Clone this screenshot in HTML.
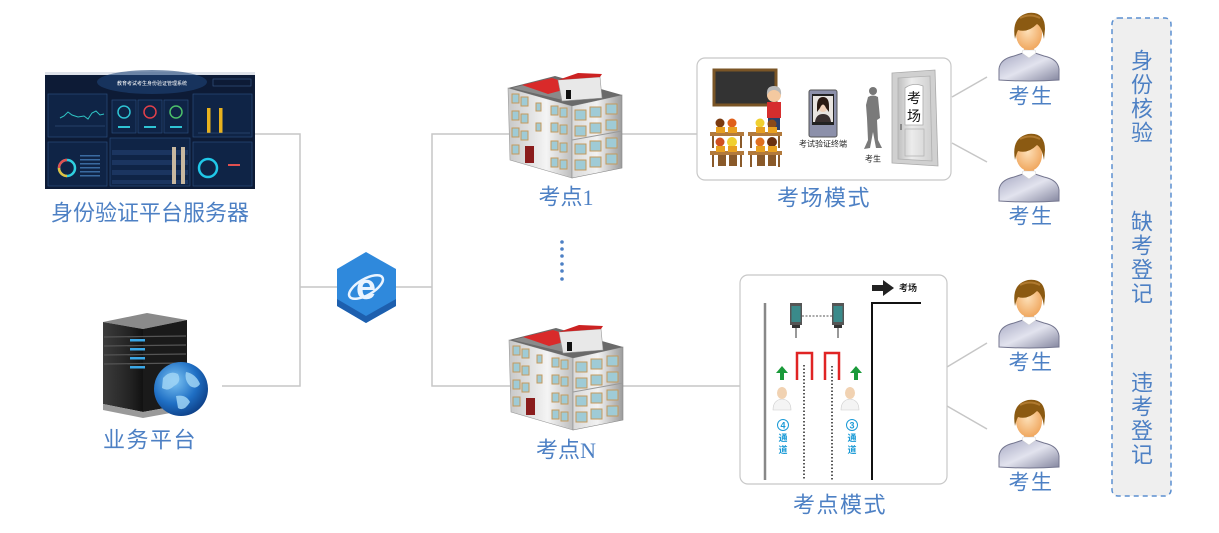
<!DOCTYPE html>
<html><head><meta charset="utf-8"><style>
html,body{margin:0;padding:0;background:#fff;}
svg{display:block;font-family:"Liberation Sans","Noto Sans CJK SC",sans-serif;}
</style></head><body>
<svg width="1219" height="533" viewBox="0 0 1219 533" xmlns="http://www.w3.org/2000/svg">
<defs>
 <linearGradient id="gBody" x1="0" y1="0" x2="1" y2="1">
  <stop offset="0" stop-color="#a6a8c2"/><stop offset=".5" stop-color="#e2e3ee"/><stop offset="1" stop-color="#84869f"/>
 </linearGradient>
 <radialGradient id="gSkin" cx=".45" cy=".4" r=".6">
  <stop offset="0" stop-color="#fde0b8"/><stop offset="1" stop-color="#f0a860"/>
 </radialGradient>
 <linearGradient id="gFront" x1="0" y1="0" x2="1" y2="0">
  <stop offset="0" stop-color="#d9d9d9"/><stop offset=".5" stop-color="#f2f2f2"/><stop offset="1" stop-color="#9c9c9c"/>
 </linearGradient>
 <linearGradient id="gLeft" x1="0" y1="0" x2="1" y2="0">
  <stop offset="0" stop-color="#c8c8c8"/><stop offset=".6" stop-color="#f4f4f4"/><stop offset="1" stop-color="#bdbdbd"/>
 </linearGradient>
 <radialGradient id="gGlobe" cx=".38" cy=".35" r=".7">
  <stop offset="0" stop-color="#7cc4f4"/><stop offset=".6" stop-color="#1f6fc4"/><stop offset="1" stop-color="#0d3f86"/>
 </radialGradient>
 <linearGradient id="gSrv" x1="0" y1="0" x2="1" y2="0">
  <stop offset="0" stop-color="#3c3c3c"/><stop offset=".7" stop-color="#222"/><stop offset="1" stop-color="#111"/>
 </linearGradient>
 <linearGradient id="gDoor" x1="0" y1="0" x2="1" y2="0">
  <stop offset="0" stop-color="#bfbfbf"/><stop offset=".4" stop-color="#ececec"/><stop offset="1" stop-color="#cfcfcf"/>
 </linearGradient>

 <g id="stu">
  <path d="M1,68 L1,57 Q2,47 16,44 L25,41 L37,41 L46,44 Q60,47 61,57 L61,68 Q31,70 1,68Z" fill="url(#gBody)" stroke="#74768f" stroke-width="1"/>
  <rect x="26" y="30" width="10" height="11" fill="#f0b070"/>
  <path d="M24,41 L31,46 L38,41 L37,38 L25,38Z" fill="#fff" stroke="#ccc" stroke-width=".5"/>
  <ellipse cx="31" cy="22" rx="13" ry="16" fill="url(#gSkin)"/>
  <path d="M17,27 Q13,5 30,1 Q47,-1 47,17 L46,27 Q44,15 39,12 Q30,21 20,18 Q18,22 17,27Z" fill="#8b5a12"/>
  <path d="M22,6 Q32,1 42,6" stroke="#b07a30" stroke-width="2" fill="none"/>
 </g>

 <g id="bld">
  <polygon points="508,88 572,106 572,178 510,160" fill="url(#gLeft)" stroke="#999" stroke-width=".6"/>
  <polygon points="572,106 622,95 622,168 572,178" fill="url(#gFront)" stroke="#888" stroke-width=".6"/>
  <polygon points="508,88 555,76 622,95 572,106" fill="#6a6a6a"/>
  <polygon points="512,88 552,78 600,92 567,101" fill="#8a8a8a"/>
  <polygon points="522,85 552,78 578,86 548,94" fill="#d92a2a"/>
  <polygon points="558,80 600,77 602,98 562,101" fill="#e8e8e8" stroke="#999" stroke-width=".6"/>
  <polygon points="558,80 578,73 602,74 600,77" fill="#cc2222"/>
  <rect x="566" y="90" width="5" height="9" fill="#111"/>
  <g fill="#9fcbd6" stroke="#c49a5c" stroke-width="1">
   <rect x="512" y="94" width="7" height="9"/><rect x="521" y="97" width="7" height="9"/>
   <rect x="512" y="111" width="7" height="9"/><rect x="521" y="114" width="7" height="9"/>
   <rect x="512" y="128" width="7" height="9"/><rect x="521" y="131" width="7" height="9"/>
   <rect x="512" y="145" width="7" height="9"/>
   <rect x="536" y="103" width="5" height="8"/>
   <rect x="536" y="123" width="5" height="8"/>
   <rect x="551" y="106" width="7" height="9"/><rect x="560" y="108" width="7" height="9"/>
   <rect x="551" y="123" width="7" height="9"/><rect x="560" y="125" width="7" height="9"/>
   <rect x="551" y="141" width="7" height="9"/><rect x="560" y="143" width="7" height="9"/>
   <rect x="551" y="158" width="7" height="9"/><rect x="560" y="160" width="7" height="9"/>
  </g>
  <rect x="525" y="146" width="9" height="17" fill="#8a1c1c"/>
  <g fill="#9fcbd6" stroke="#c49a5c" stroke-width="1">
   <rect x="575" y="110" width="11" height="10"/><rect x="590" y="107" width="11" height="10"/><rect x="606" y="104" width="11" height="10"/>
   <rect x="575" y="126" width="11" height="10"/><rect x="590" y="123" width="11" height="10"/><rect x="606" y="120" width="11" height="10"/>
   <rect x="575" y="144" width="11" height="10"/><rect x="590" y="141" width="11" height="10"/><rect x="606" y="138" width="11" height="10"/>
   <rect x="575" y="160" width="11" height="10"/><rect x="590" y="157" width="11" height="10"/><rect x="606" y="154" width="11" height="10"/>
  </g>
  <line x1="572" y1="140" x2="622" y2="131" stroke="#999" stroke-width="1"/>
 </g>
</defs>

<g stroke="#c6c6c6" stroke-width="1.5" fill="none">
 <polyline points="255,134 300,134 300,386 222,386"/>
 <line x1="300" y1="287" x2="338" y2="287"/>
 <line x1="395" y1="287" x2="432" y2="287"/>
 <polyline points="510,134 432,134 432,386 510,386"/>
 <line x1="620" y1="134" x2="697" y2="134"/>
 <line x1="620" y1="386" x2="740" y2="386"/>
 <line x1="952" y1="97" x2="987" y2="77"/>
 <line x1="952" y1="143" x2="987" y2="162"/>
 <line x1="947" y1="367" x2="987" y2="343"/>
 <line x1="947" y1="406" x2="987" y2="429"/>
</g>

<g>
 <rect x="45" y="72" width="210" height="117" fill="#0d1b36"/>
 <rect x="45" y="72" width="210" height="3" fill="#dfe3ea"/>
 <ellipse cx="152" cy="82" rx="55" ry="12" fill="#1e4478" opacity=".6"/>
 <text x="152" y="85" font-size="5" fill="#fff" text-anchor="middle">教育考试考生身份验证管理系统</text>
 <rect x="213" y="79" width="38" height="7" fill="none" stroke="#3a5a8a" stroke-width=".6"/>
 <g fill="#0f2446" stroke="#2a4a7a" stroke-width=".7">
  <rect x="48" y="94" width="59" height="43"/>
  <rect x="112" y="100" width="24" height="33"/>
  <rect x="138" y="100" width="24" height="33"/>
  <rect x="164" y="100" width="24" height="33"/>
  <rect x="193" y="94" width="59" height="43"/>
  <rect x="48" y="142" width="59" height="44"/>
  <rect x="110" y="138" width="80" height="48"/>
  <rect x="193" y="142" width="59" height="44"/>
 </g>
 <polyline points="60,118 64,116 68,112 72,115 78,117 84,116 88,119 92,113 96,111 100,115 104,114" fill="none" stroke="#2fc4c4" stroke-width="1"/>
 <line x1="55" y1="126" x2="105" y2="126" stroke="#3a5a8a" stroke-width=".6"/>
 <circle cx="124" cy="112" r="6" fill="none" stroke="#2fc4d4" stroke-width="1.5"/>
 <circle cx="150" cy="112" r="6" fill="none" stroke="#e0404a" stroke-width="1.5"/>
 <circle cx="176" cy="112" r="6" fill="none" stroke="#4cc06a" stroke-width="1.5"/>
 <g fill="#2fc4d4"><rect x="118" y="126" width="12" height="2"/><rect x="144" y="126" width="12" height="2"/><rect x="170" y="126" width="12" height="2"/></g>
 <rect x="207" y="108" width="3.5" height="25" fill="#e8b21e"/>
 <rect x="219" y="108" width="3.5" height="25" fill="#e8b21e"/>
 <line x1="198" y1="133" x2="250" y2="133" stroke="#3a5a8a" stroke-width=".6"/>
 <circle cx="67" cy="168" r="8" fill="none" stroke="#2fd0e0" stroke-width="2.5"/>
 <path d="M59,168 A8,8 0 0 1 67,160" fill="none" stroke="#e05050" stroke-width="2.5"/>
 <path d="M67,176 A8,8 0 0 1 59,168" fill="none" stroke="#e0c040" stroke-width="2.5"/>
 <g fill="#3a6aa0"><rect x="80" y="155" width="20" height="1.5"/><rect x="80" y="159" width="20" height="1.5"/><rect x="80" y="163" width="20" height="1.5"/><rect x="80" y="167" width="20" height="1.5"/><rect x="80" y="171" width="20" height="1.5"/><rect x="80" y="175" width="20" height="1.5"/></g>
 <g fill="#1b3560"><rect x="112" y="150" width="76" height="5"/><rect x="112" y="160" width="76" height="5"/><rect x="112" y="170" width="76" height="5"/><rect x="112" y="180" width="76" height="4"/></g>
 <g fill="#c8b8a0"><rect x="172" y="147" width="4" height="37"/><rect x="181" y="147" width="4" height="37"/></g>
 <circle cx="208" cy="168" r="9" fill="none" stroke="#20c8e8" stroke-width="2.5"/>
 <rect x="228" y="164" width="12" height="2" fill="#e05050"/>
</g>
<text x="150" y="213" font-size="22" fill="#4d80c4" text-anchor="middle" dominant-baseline="central">身份验证平台服务器</text>

<g>
 <polygon points="103,322 147,313 187,320 143,329" fill="#8a8a8a"/>
 <polygon points="103,322 143,329 143,412 103,404" fill="url(#gSrv)"/>
 <polygon points="143,329 187,320 187,404 143,412" fill="#1a1a1a"/>
 <g stroke="#555" stroke-width="1.2"><line x1="104" y1="337" x2="186" y2="336"/><line x1="104" y1="346" x2="186" y2="345"/><line x1="104" y1="355" x2="186" y2="354"/><line x1="104" y1="364" x2="186" y2="363"/></g>
 <g fill="#3aa8e8"><rect x="130" y="339" width="15" height="2.5"/><rect x="130" y="348" width="15" height="2.5"/><rect x="130" y="357" width="15" height="2.5"/><rect x="130" y="366" width="15" height="2.5"/></g>
 <polygon points="103,404 143,412 187,404 187,410 143,418 103,410" fill="#9a9a9a"/>
 <circle cx="181" cy="389" r="27" fill="url(#gGlobe)"/>
 <path d="M163,378 Q170,370 178,374 Q182,382 174,386 Q168,392 162,388Z M186,372 Q196,374 200,384 Q196,390 190,386 Q184,380 186,372Z M176,396 Q186,394 190,402 Q184,412 178,408Z" fill="#9fd4f4" opacity=".85"/>
</g>
<text x="150" y="440" font-size="22" fill="#4d80c4" text-anchor="middle" dominant-baseline="central" letter-spacing="1.5">业务平台</text>

<g>
 <polygon points="366,252 396,269 396,306 366,323 337,306 337,269" fill="#2f89dc"/>
 <polygon points="337,299 366,316 396,299 396,306 366,323 337,306" fill="#1d5fae"/>
 <text x="366" y="299" font-size="36" font-weight="bold" fill="#eaf4ff" text-anchor="middle" font-family="Liberation Sans, sans-serif">e</text>
 <ellipse cx="366" cy="287" rx="19" ry="8" fill="none" stroke="#eaf4ff" stroke-width="2.5" transform="rotate(-30 366 287)"/>
</g>

<use href="#bld"/>
<use href="#bld" transform="translate(1,252)"/>
<text x="566" y="197" font-size="22" fill="#4d80c4" text-anchor="middle" dominant-baseline="central">考点<tspan font-family="Liberation Serif, serif">1</tspan></text>
<text x="566" y="450" font-size="22" fill="#4d80c4" text-anchor="middle" dominant-baseline="central">考点<tspan font-family="Liberation Serif, serif">N</tspan></text>
<g fill="#4d80c4"><circle cx="562" cy="242" r="1.8"/><circle cx="562" cy="249" r="1.8"/><circle cx="562" cy="256" r="1.8"/><circle cx="562" cy="264" r="1.8"/><circle cx="562" cy="271" r="1.8"/><circle cx="562" cy="279" r="1.8"/></g>

<rect x="697" y="58" width="254" height="122" rx="8" fill="#fff" stroke="#c8c8c8" stroke-width="1.2"/>
<g>
 <rect x="714" y="70" width="62" height="35" fill="#333" stroke="#7a5526" stroke-width="3"/>
 <rect x="767" y="102" width="14" height="16" fill="#d62e2e"/>
 <rect x="768" y="118" width="12" height="12" fill="#2b3f6a"/>
 <circle cx="774" cy="95" r="7" fill="#f4c9a0"/>
 <path d="M767,95 Q766,86 774,86 Q782,86 781,95 L779,92 Q774,88 769,92Z" fill="#b8b8b8"/>
 <circle cx="720" cy="123" r="4.5" fill="#7a3a10"/><circle cx="732" cy="123" r="4.5" fill="#e0601a"/>
 <circle cx="760" cy="123" r="4.5" fill="#f0d030"/><circle cx="772" cy="124" r="4.5" fill="#8a4a1a"/>
 <g fill="#b27a3c"><rect x="710" y="132" width="34" height="4"/><rect x="748" y="132" width="34" height="4"/><rect x="710" y="151" width="34" height="4"/><rect x="748" y="151" width="34" height="4"/></g>
 <g fill="#e8a020"><rect x="716" y="127" width="9" height="6"/><rect x="728" y="127" width="9" height="6"/><rect x="756" y="127" width="9" height="6"/><rect x="768" y="127" width="9" height="6"/></g>
 <circle cx="720" cy="142" r="4.5" fill="#d05020"/><circle cx="732" cy="142" r="5" fill="#f0d030"/>
 <circle cx="760" cy="142" r="4.5" fill="#e07020"/><circle cx="772" cy="142" r="5" fill="#6a3010"/>
 <g fill="#e8a020"><rect x="716" y="146" width="9" height="6"/><rect x="728" y="146" width="9" height="6"/><rect x="756" y="146" width="9" height="6"/><rect x="768" y="146" width="9" height="6"/></g>
 <g fill="#8a5a2a"><rect x="712" y="136" width="2" height="12"/><rect x="740" y="136" width="2" height="12"/><rect x="750" y="136" width="2" height="12"/><rect x="778" y="136" width="2" height="12"/>
  <rect x="712" y="155" width="2" height="12"/><rect x="740" y="155" width="2" height="12"/><rect x="750" y="155" width="2" height="12"/><rect x="778" y="155" width="2" height="12"/>
  <rect x="718" y="155" width="8" height="11"/><rect x="729" y="155" width="8" height="11"/><rect x="757" y="155" width="8" height="11"/><rect x="768" y="155" width="8" height="11"/></g>
 <rect x="809" y="90" width="28" height="47" rx="2" fill="#8c90aa" stroke="#555" stroke-width="1"/>
 <rect x="812" y="94" width="22" height="31" fill="#222"/>
 <rect x="813" y="96" width="20" height="26" fill="#e8e4e0"/>
 <ellipse cx="823" cy="106" rx="5" ry="6" fill="#f0d0b8"/>
 <path d="M817,106 Q817,97 823,97 Q829,97 829,106 L829,112 L826,108 Q823,101 820,108 L817,112Z" fill="#2a1a12"/>
 <path d="M815,122 Q816,114 823,114 Q830,114 831,122Z" fill="#3a3030"/>
 <text x="823" y="144" font-size="8" fill="#222" text-anchor="middle" dominant-baseline="central">考试验证终端</text>
 <circle cx="873" cy="91" r="4" fill="#777"/>
 <path d="M868,97 Q873,94 878,97 L880,118 L877,120 L878,140 L882,148 L876,148 L873,132 L870,148 L864,149 L868,140 L867,118 L866,105Z" fill="#7a7a7a"/>
 <text x="873" y="159" font-size="8" fill="#222" text-anchor="middle" dominant-baseline="central">考生</text>
 <polygon points="892,73 935,70 938,166 892,163" fill="#d0d0d0" stroke="#aaa" stroke-width=".8"/>
 <polygon points="898,78 930,76 932,161 898,159" fill="url(#gDoor)" stroke="#b0b0b0" stroke-width=".8"/>
 <path d="M905,125 L905,88 Q913,82 923,86 L923,125Z" fill="#fff" stroke="#aaa" stroke-width=".8"/>
 <rect x="905" y="129" width="19" height="27" fill="none" stroke="#b5b5b5" stroke-width=".8"/>
 <rect x="900" y="124" width="2" height="6" fill="#888"/>
 <text x="914" y="98" font-size="14" fill="#111" text-anchor="middle" dominant-baseline="central">考</text>
 <text x="914" y="116" font-size="14" fill="#111" text-anchor="middle" dominant-baseline="central">场</text>
</g>
<text x="824" y="198" font-size="22" fill="#4d80c4" text-anchor="middle" dominant-baseline="central" letter-spacing="1.5">考场模式</text>

<rect x="740" y="275" width="207" height="209" rx="8" fill="#fff" stroke="#c8c8c8" stroke-width="1.2"/>
<g>
 <rect x="872" y="285" width="12" height="6" fill="#222"/>
 <polygon points="883,280 894,288 883,296" fill="#222"/>
 <text x="899" y="288" font-size="9" font-weight="bold" fill="#222" dominant-baseline="central">考场</text>
 <polyline points="872,480 872,303 921,303" fill="none" stroke="#111" stroke-width="2"/>
 <line x1="765" y1="303" x2="765" y2="480" stroke="#888" stroke-width="2.5"/>
 <g>
  <rect x="790" y="303" width="12" height="22" fill="#555"/><rect x="791.5" y="306" width="9" height="16" fill="#3a8a8a"/>
  <rect x="792" y="325" width="8" height="3" fill="#333"/><rect x="795" y="328" width="2" height="10" fill="#999"/>
  <rect x="832" y="303" width="12" height="22" fill="#555"/><rect x="833.5" y="306" width="9" height="16" fill="#3a8a8a"/>
  <rect x="834" y="325" width="8" height="3" fill="#333"/><rect x="837" y="328" width="2" height="10" fill="#999"/>
  <line x1="802" y1="316" x2="832" y2="316" stroke="#555" stroke-width="1" stroke-dasharray="2,1.5"/>
 </g>
 <path d="M797,380 V353 H812 V380" fill="none" stroke="#e02424" stroke-width="2.5"/>
 <path d="M825,380 V353 H839 V380" fill="none" stroke="#e02424" stroke-width="2.5"/>
 <line x1="804" y1="365" x2="804" y2="480" stroke="#222" stroke-width="1.5" stroke-dasharray="1.5,2"/>
 <line x1="832" y1="366" x2="832" y2="480" stroke="#222" stroke-width="1.5" stroke-dasharray="1.5,2"/>
 <g fill="#1a9a3a">
  <polygon points="776,373 782,366 788,373"/><rect x="780" y="372" width="4" height="8"/>
  <polygon points="850,373 856,366 862,373"/><rect x="854" y="372" width="4" height="8"/>
 </g>
 <g>
  <path d="M773,410 Q773,400 782,399 Q791,400 791,410Z" fill="#f4f4f4" stroke="#ccc" stroke-width=".6"/>
  <ellipse cx="782" cy="393" rx="5" ry="6" fill="#f1d2b2"/>
  <path d="M841,410 Q841,400 850,399 Q859,400 859,410Z" fill="#f4f4f4" stroke="#ccc" stroke-width=".6"/>
  <ellipse cx="850" cy="393" rx="5" ry="6" fill="#f1d2b2"/>
 </g>
 <g fill="none" stroke="#1a9ad6" stroke-width="1"><circle cx="783" cy="425" r="5.5"/><circle cx="852" cy="425" r="5.5"/></g>
 <g font-size="9" font-weight="bold" fill="#1a9ad6" text-anchor="middle" dominant-baseline="central">
  <text x="783" y="425.5">4</text><text x="852" y="425.5">3</text>
  <text x="783" y="438">通</text><text x="783" y="450">道</text>
  <text x="852" y="438">通</text><text x="852" y="450">道</text>
 </g>
</g>
<text x="840" y="505" font-size="22" fill="#4d80c4" text-anchor="middle" dominant-baseline="central" letter-spacing="1.5">考点模式</text>

<use href="#stu" transform="translate(998,12)"/>
<use href="#stu" transform="translate(998,133)"/>
<use href="#stu" transform="translate(998,279)"/>
<use href="#stu" transform="translate(998,399)"/>
<g font-size="21" fill="#4d80c4" text-anchor="middle" dominant-baseline="central" letter-spacing="1.5">
 <text x="1031" y="97">考生</text>
 <text x="1031" y="217">考生</text>
 <text x="1031" y="363">考生</text>
 <text x="1031" y="483">考生</text>
</g>

<rect x="1112" y="18" width="59" height="478" rx="6" fill="#efefef" stroke="#5b8fd0" stroke-width="1.5" stroke-dasharray="5,4"/>
<g font-size="22" fill="#4d80c4" text-anchor="middle" dominant-baseline="central">
 <text x="1142" y="61">身</text><text x="1142" y="85">份</text><text x="1142" y="109">核</text><text x="1142" y="133">验</text>
 <text x="1142" y="222">缺</text><text x="1142" y="246">考</text><text x="1142" y="270">登</text><text x="1142" y="294">记</text>
 <text x="1142" y="383">违</text><text x="1142" y="407">考</text><text x="1142" y="431">登</text><text x="1142" y="455">记</text>
</g>
</svg>
</body></html>
